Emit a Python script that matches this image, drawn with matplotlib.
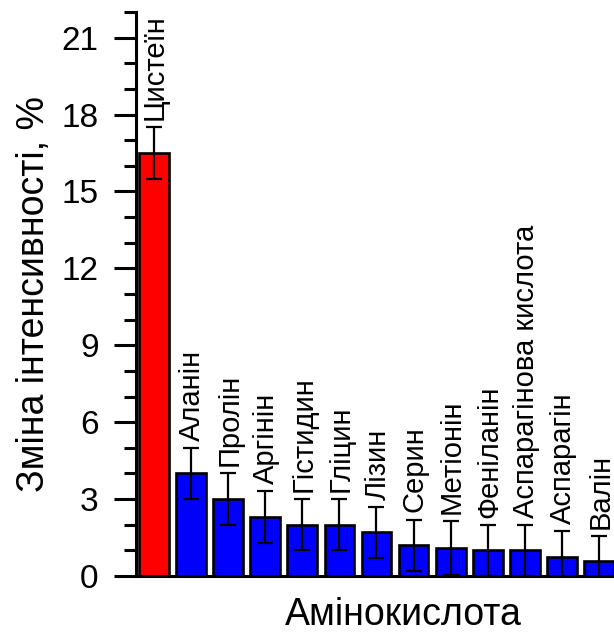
import matplotlib
matplotlib.use("Agg")
import matplotlib.pyplot as plt
import numpy as np

plt.rcParams['font.family'] = ['Liberation Sans', 'DejaVu Sans']

names = ["Цистеїн", "Аланін", "Пролін", "Аргінін", "Гістидин", "Гліцин", "Лізин",
         "Серин", "Метіонін", "Феніланін", "Аспарагінова кислота", "Аспарагін", "Валін"]
values = [16.5, 4.0, 3.0, 2.3, 2.0, 2.0, 1.7, 1.2, 1.1, 1.0, 1.0, 0.75, 0.6]
errors = [1.0, 1.0, 1.0, 1.0, 1.0, 1.0, 1.0, 1.0, 1.05, 1.0, 1.0, 1.0, 0.95]
colors = ["#ff0000"] + ["#0000ff"] * 12
yticks = [0, 3, 6, 9, 12, 15, 18, 21]

dpi = 100
fig = plt.figure(figsize=(6.14, 6.37), dpi=dpi)
ax = fig.add_axes([136/614, 61/637, 1 - 136/614, 564/637])

x = np.arange(len(values))
ax.bar(x, values, width=0.8, color=colors, edgecolor="black", linewidth=1.9, zorder=2)
ax.errorbar(x, values, yerr=errors, fmt="none", ecolor="black", elinewidth=1.6,
            capsize=5.8, capthick=1.6, zorder=3)

for xi, v, e, n in zip(x, values, errors, names):
    ax.text(xi + 0.03, v + e + 0.28, n, rotation=90, ha="center", va="bottom",
            fontsize=21, clip_on=False)

ax.set_xlim(-0.48, 12.4)
ax.set_ylim(0, 22)
ax.set_yticks(yticks)
ax.set_yticks(np.arange(0, 23, 1), minor=True)
ax.set_xticks([])
ax.tick_params(axis="y", which="major", length=16, width=2.2, labelsize=24, pad=11)
ax.tick_params(axis="y", which="minor", length=9, width=2.2)
for s in ["top", "right"]:
    ax.spines[s].set_visible(False)
for s in ["left", "bottom"]:
    ax.spines[s].set_linewidth(2.2)

ax.set_ylabel("Зміна інтенсивності, %", fontsize=27, labelpad=7)
ax.set_xlabel("Амінокислота", fontsize=27, va="top")
ax.xaxis.set_label_coords(0.559, -0.037)

fig.savefig("out.png", dpi=dpi)
